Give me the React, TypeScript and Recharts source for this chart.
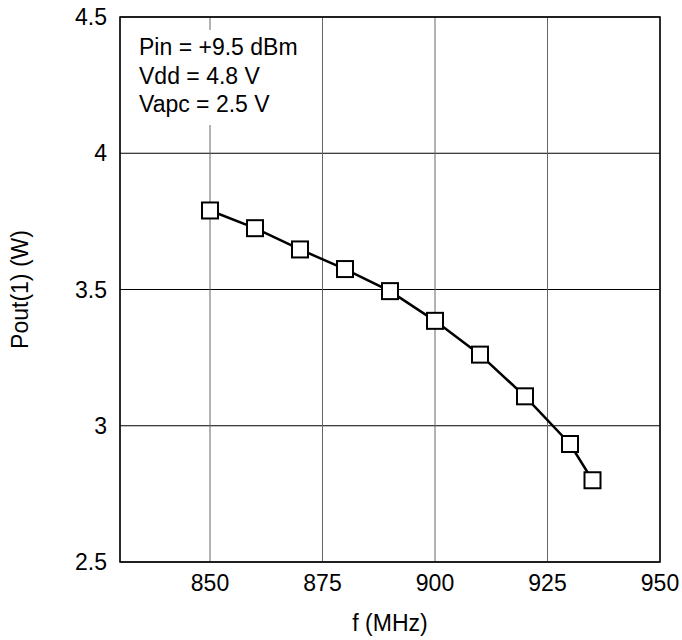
import { LineChart, Line, XAxis, YAxis, CartesianGrid, ReferenceArea } from "recharts";

const freq = [850, 860, 870, 880, 890, 900, 910, 920, 930, 935];
const pout = [3.79, 3.725, 3.647, 3.575, 3.494, 3.385, 3.261, 3.108, 2.933, 2.8];
const xTicks = [850, 875, 900, 925, 950];
const yTicks = [2.5, 3, 3.5, 4, 4.5];
const notes = ["Pin = +9.5 dBm", "Vdd = 4.8 V", "Vapc = 2.5 V"];

const data = freq.map((f, i) => ({ f, p: pout[i] }));

const font = "'Liberation Sans', Arial, sans-serif";
const tickStyle = { fill: "#000", fontSize: 23, fontFamily: font };

const SquareDot = (props: any) => {
  const { cx, cy, index } = props;
  if (cx == null || cy == null) return null;
  return (
    <rect key={index} x={cx - 8} y={cy - 8} width={16} height={16} fill="#fff" stroke="#000" strokeWidth={2} />
  );
};

export default function App() {
  return (
    <div
      style={{
        position: "absolute",
        left: 0,
        top: 0,
        width: 682,
        height: 640,
        background: "#fff",
        fontFamily: font,
      }}
    >
      <LineChart width={682} height={640} data={data} margin={{ top: 17, right: 22, left: 0, bottom: 0 }}>
        <CartesianGrid vertical={false} stroke="#000" />
        <CartesianGrid horizontal={false} stroke="#666" />
        <XAxis
          dataKey="f"
          type="number"
          domain={[830, 950]}
          ticks={xTicks}
          allowDataOverflow
          axisLine={false}
          tickLine={false}
          tickSize={6}
          tickMargin={7}
          height={78}
          tick={tickStyle}
          label={{ value: "f (MHz)", position: "insideBottom", offset: 9, style: tickStyle }}
        />
        <YAxis
          type="number"
          domain={[2.5, 4.5]}
          ticks={yTicks}
          allowDataOverflow
          axisLine={false}
          tickLine={false}
          tickSize={6}
          tickMargin={7}
          width={120}
          tick={tickStyle}
          label={{
            value: "Pout(1) (W)",
            angle: -90,
            position: "insideLeft",
            offset: 20,
            style: { ...tickStyle, textAnchor: "middle" },
          }}
        />
        <ReferenceArea x1={830} x2={950} y1={2.5} y2={4.5} fill="none" fillOpacity={0} stroke="#000" strokeWidth={1.5} />
        <Line
          type="linear"
          dataKey="p"
          stroke="#000"
          strokeWidth={2.5}
          dot={SquareDot}
          activeDot={false}
          isAnimationActive={false}
        />
      </LineChart>
      <div
        style={{
          position: "absolute",
          left: 131,
          top: 30,
          padding: "3px 8px 6px 8px",
          background: "#fff",
          fontSize: 23,
          lineHeight: "28.6px",
          color: "#000",
          whiteSpace: "nowrap",
        }}
      >
        {notes.map((n) => (
          <div key={n}>{n}</div>
        ))}
      </div>
    </div>
  );
}
